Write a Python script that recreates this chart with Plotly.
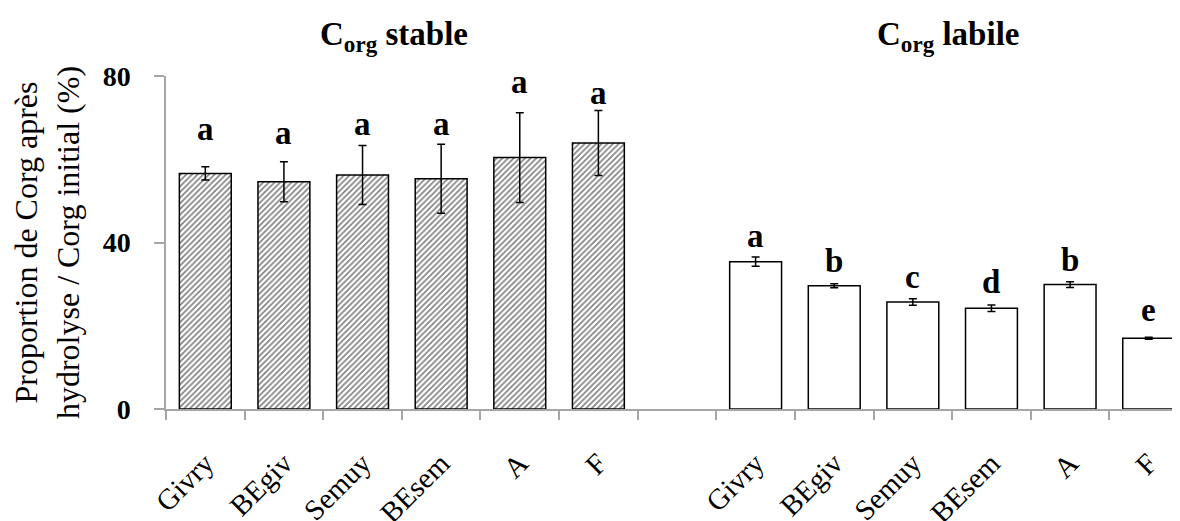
import plotly.graph_objects as go

# ---- data ----
sites = ["Givry", "BEgiv", "Semuy", "BEsem", "A", "F"]
stable_ids = ["s_" + s for s in sites]
labile_ids = ["l_" + s for s in sites]
gap_id = "gap"

stable_vals = [56.6, 54.6, 56.2, 55.3, 60.4, 63.9]
stable_err = [1.6, 4.8, 7.1, 8.3, 10.8, 7.8]
stable_letters = ["a", "a", "a", "a", "a", "a"]
stable_letter_y = [65.0, 64.2, 66.4, 66.4, 76.3, 73.7]

labile_vals = [35.4, 29.6, 25.7, 24.2, 29.9, 17.0]
labile_err = [1.1, 0.5, 0.8, 0.8, 0.7, 0.25]
labile_letters = ["a", "b", "c", "d", "b", "e"]
labile_letter_y = [39.5, 33.5, 29.5, 28.3, 33.7, 21.6]

y_ticks = [0, 40, 80]
y_title = "Proportion de Corg après<br>hydrolyse / Corg initial (%)"
title_stable = "<b>C<sub>org</sub> stable</b>"
title_labile = "<b>C<sub>org</sub> labile</b>"

categories = stable_ids + [gap_id] + labile_ids
cat_text = sites + [""] + sites

SERIF = "Liberation Serif"
AXIS_GREY = "#a6a6a6"

fig = go.Figure()
fig.add_trace(go.Bar(
    x=stable_ids, y=stable_vals, width=0.66,
    marker=dict(color="white",
                line=dict(color="black", width=1.5),
                pattern=dict(shape="/", fgcolor="black", bgcolor="white",
                             size=4, solidity=0.4)),
    error_y=dict(type="data", array=stable_err, color="black",
                 thickness=1.5, width=4),
    showlegend=False,
))
fig.add_trace(go.Bar(
    x=labile_ids, y=labile_vals, width=0.66,
    marker=dict(color="white", line=dict(color="black", width=1.5)),
    error_y=dict(type="data", array=labile_err, color="black",
                 thickness=1.5, width=4),
    showlegend=False,
))

annotations = []
for cid, lab, yy in zip(stable_ids + labile_ids,
                        stable_letters + labile_letters,
                        stable_letter_y + labile_letter_y):
    annotations.append(dict(
        x=cid, y=yy, xref="x", yref="y", text="<b>%s</b>" % lab,
        showarrow=False, yanchor="bottom", yshift=-11,
        font=dict(family=SERIF, size=33, color="black")))

annotations.append(dict(
    x=categories.index("s_BEsem") - 0.6, y=1.12, xref="x", yref="paper",
    text=title_stable, showarrow=False, yanchor="middle",
    font=dict(family=SERIF, size=33, color="black")))
annotations.append(dict(
    x=categories.index("l_BEsem") - 0.55, y=1.12, xref="x", yref="paper",
    text=title_labile, showarrow=False, yanchor="middle",
    font=dict(family=SERIF, size=33, color="black")))

fig.update_layout(
    width=1180, height=521,
    margin=dict(l=158, r=0, t=68, b=118),
    paper_bgcolor="white", plot_bgcolor="white",
    barmode="overlay",
    annotations=annotations,
    xaxis=dict(
        type="category", categoryorder="array", categoryarray=categories,
        tickmode="array", tickvals=categories, ticktext=cat_text,
        tickson="boundaries", ticks="outside", ticklen=9,
        tickcolor=AXIS_GREY, tickwidth=1.5,
        showline=True, linecolor=AXIS_GREY, linewidth=1.5,
        showgrid=False, zeroline=False,
        range=[-0.5, 12.5], tickangle=-45,
        ticklabelstandoff=24,
        tickfont=dict(family=SERIF, size=29, color="black"),
    ),
    yaxis=dict(
        range=[0, 80], tickmode="array", tickvals=y_ticks,
        ticks="outside", ticklen=10, tickcolor=AXIS_GREY, tickwidth=1.5,
        showline=True, linecolor=AXIS_GREY, linewidth=1.5,
        showgrid=False, zeroline=False,
        ticklabelstandoff=18,
        tickfont=dict(family=SERIF, size=28, color="black", weight="bold"),
        title=dict(text=y_title, standoff=22,
                   font=dict(family=SERIF, size=32, color="black")),
    ),
)

fig.write_html("out.html")
